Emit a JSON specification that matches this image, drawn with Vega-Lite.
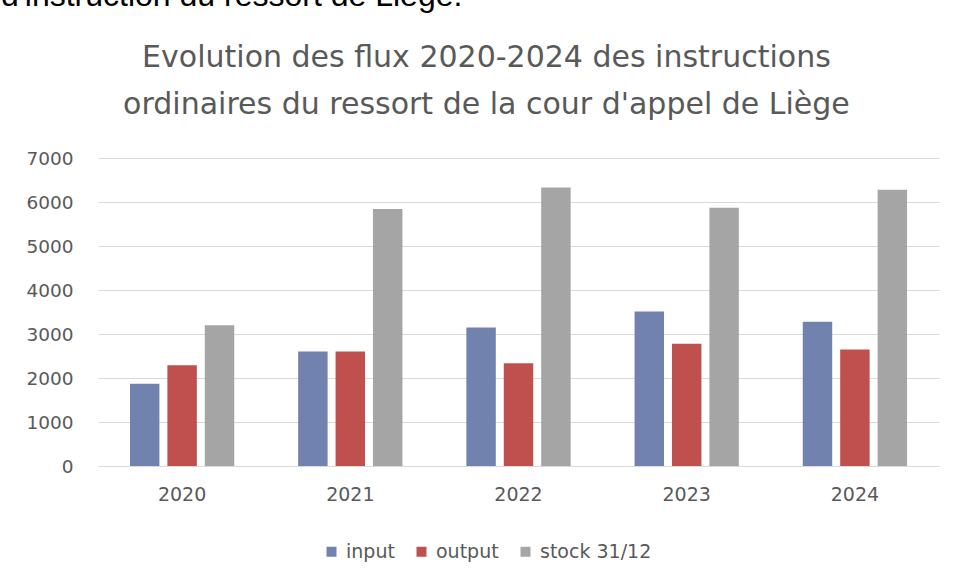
{
  "$schema": "https://vega.github.io/schema/vega-lite/v6.json",
  "background": "white",
  "padding": {"left": 0, "top": -20, "right": 19, "bottom": 0},
  "title": {
    "text": "d'instruction du ressort de Liège.",
    "anchor": "start",
    "frame": "bounds",
    "font": "Liberation Sans",
    "fontSize": 32,
    "fontWeight": "normal",
    "color": "#000000",
    "dx": -25,
    "offset": 30
  },
  "vconcat": [
    {
      "title": {
        "text": ["Evolution des flux 2020-2024 des instructions", "ordinaires du ressort de la cour d'appel de Liège"],
        "anchor": "middle",
        "frame": "bounds",
        "dx": 4,
        "font": "DejaVu Sans",
        "fontSize": 30,
        "fontWeight": "normal",
        "color": "#595959",
        "lineHeight": 47,
        "offset": 29
      },
      "width": 841,
      "height": 308,
      "data": {
        "values": [
          {"year": "2020", "series": "input", "value": 1870},
          {"year": "2020", "series": "output", "value": 2290},
          {"year": "2020", "series": "stock 31/12", "value": 3200},
          {"year": "2021", "series": "input", "value": 2600},
          {"year": "2021", "series": "output", "value": 2600},
          {"year": "2021", "series": "stock 31/12", "value": 5840},
          {"year": "2022", "series": "input", "value": 3145},
          {"year": "2022", "series": "output", "value": 2335},
          {"year": "2022", "series": "stock 31/12", "value": 6330},
          {"year": "2023", "series": "input", "value": 3510},
          {"year": "2023", "series": "output", "value": 2780},
          {"year": "2023", "series": "stock 31/12", "value": 5870},
          {"year": "2024", "series": "input", "value": 3280},
          {"year": "2024", "series": "output", "value": 2645},
          {"year": "2024", "series": "stock 31/12", "value": 6280}
        ]
      },
      "mark": {"type": "bar"},
      "encoding": {
        "x": {
          "field": "year",
          "type": "nominal",
          "scale": {"paddingInner": 0.38, "paddingOuter": 0.19},
          "axis": {
            "title": null,
            "labelAngle": 0,
            "domain": false,
            "ticks": false,
            "grid": false,
            "labelPadding": 19,
            "labelFont": "DejaVu Sans",
            "labelFontSize": 19,
            "labelColor": "#595959"
          }
        },
        "xOffset": {
          "field": "series",
          "type": "nominal",
          "sort": ["input", "output", "stock 31/12"],
          "scale": {"paddingInner": 0.213, "paddingOuter": 0}
        },
        "y": {
          "field": "value",
          "type": "quantitative",
          "scale": {"domain": [0, 7000], "nice": false},
          "axis": {
            "title": null,
            "format": "d",
            "values": [0, 1000, 2000, 3000, 4000, 5000, 6000, 7000],
            "domain": false,
            "ticks": false,
            "grid": true,
            "gridColor": "#D9D9D9",
            "gridWidth": 1,
            "labelPadding": 25,
            "labelFont": "DejaVu Sans",
            "labelFontSize": 18.5,
            "labelColor": "#595959"
          }
        },
        "color": {
          "field": "series",
          "type": "nominal",
          "sort": ["input", "output", "stock 31/12"],
          "scale": {"domain": ["input", "output", "stock 31/12"], "range": ["#7282AE", "#C0504D", "#A5A5A5"]},
          "legend": {
            "title": null,
            "orient": "none",
            "legendX": 224,
            "legendY": 384,
            "direction": "horizontal",
            "symbolType": "square",
            "symbolSize": 100,
            "symbolStrokeWidth": 0,
            "labelFont": "DejaVu Sans",
            "labelFontSize": 19,
            "labelColor": "#595959",
            "labelOffset": 5,
            "columnPadding": 17
          }
        }
      }
    }
  ],
  "config": {
    "view": {"stroke": null}
  }
}
